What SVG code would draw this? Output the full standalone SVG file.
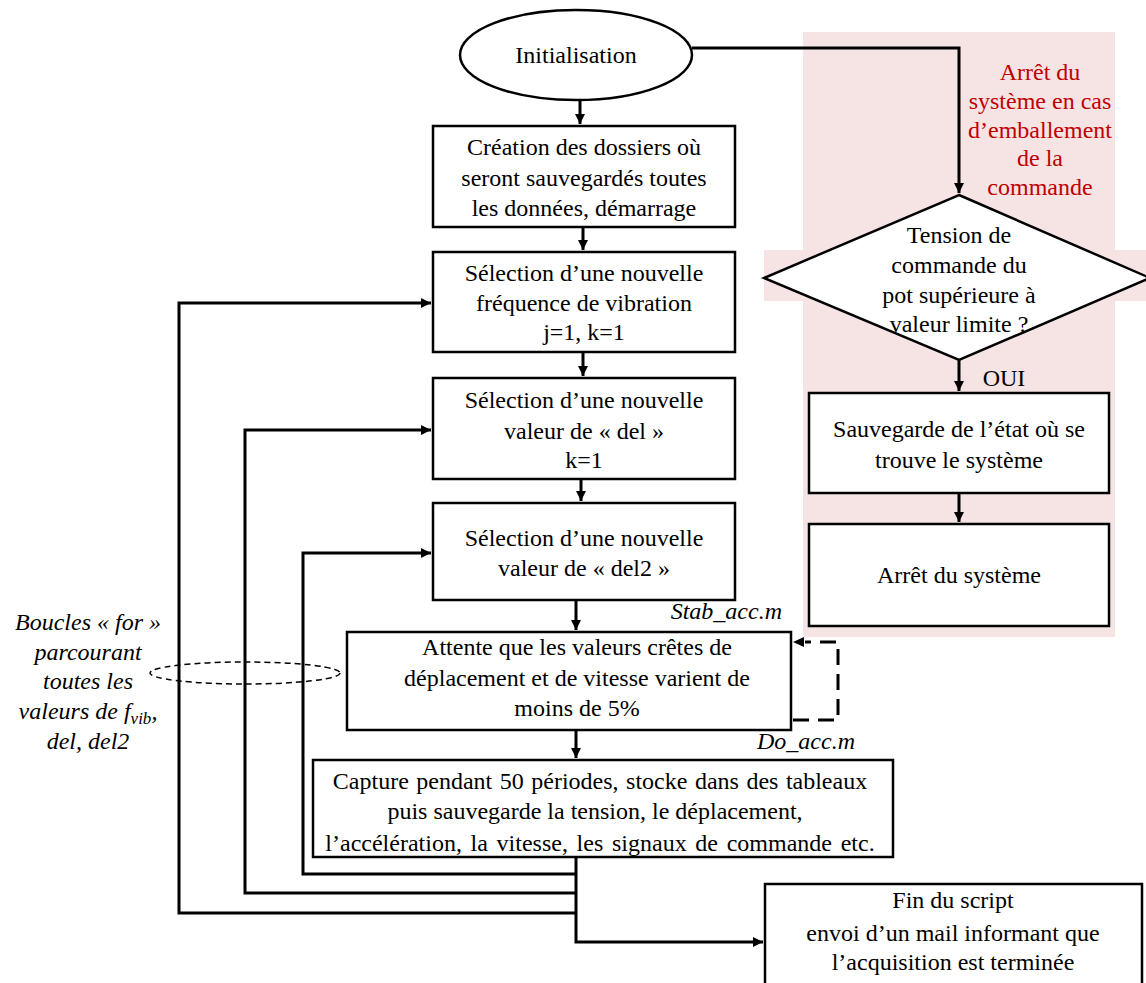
<svg xmlns="http://www.w3.org/2000/svg" width="1146" height="983" viewBox="0 0 1146 983">
<style>
.box{fill:#fff;stroke:#000;stroke-width:2.5}
.t{font-family:'Liberation Serif','Times New Roman',serif;font-size:24px;fill:#000;text-anchor:middle}
.red{fill:#c00000}
.it{font-style:italic}
.end{text-anchor:end}
.ln{fill:none;stroke:#000;stroke-width:3}
.dash{fill:none;stroke:#000;stroke-width:3;stroke-dasharray:16,9}
</style>
<defs>
<marker id="ah" viewBox="0 0 10 10" refX="10" refY="5" markerWidth="10" markerHeight="10" markerUnits="userSpaceOnUse" orient="auto">
<path d="M0,0 L10,5 L0,10 z" fill="#000"/>
</marker>
</defs>
<g id="bg">
<rect x="803" y="32" width="312" height="605" fill="#f6e3e4"/>
<rect x="764" y="250" width="382" height="51" fill="#f6e3e4"/>
</g>
<g id="connectors">
<path class="ln" d="M692,48 H959 V193" marker-end="url(#ah)"/>
<path class="ln" d="M580,100 V124" marker-end="url(#ah)"/>
<path class="ln" d="M583,227 V250" marker-end="url(#ah)"/>
<path class="ln" d="M583,352 V376" marker-end="url(#ah)"/>
<path class="ln" d="M581,479 V501" marker-end="url(#ah)"/>
<path class="ln" d="M576,600 V630" marker-end="url(#ah)"/>
<path class="ln" d="M576,730 V758" marker-end="url(#ah)"/>
<path class="ln" d="M959,360 V391" marker-end="url(#ah)"/>
<path class="ln" d="M959,493 V522" marker-end="url(#ah)"/>
<path class="ln" d="M576,857 V942 H763" marker-end="url(#ah)"/>
<path class="ln" d="M576,874 H303 V553 H431" marker-end="url(#ah)"/>
<path class="ln" d="M576,893 H245 V430 H431" marker-end="url(#ah)"/>
<path class="ln" d="M576,913 H179 V303 H431" marker-end="url(#ah)"/>
<path class="dash" d="M793,720 H838 V642 H805"/>
<path d="M793,642 L804,637 L804,647 z" fill="#000"/>
<ellipse cx="245" cy="673" rx="95" ry="11" fill="none" stroke="#000" stroke-width="1.5" stroke-dasharray="6,4"/>
</g>
<g id="init">
<ellipse cx="576" cy="55" rx="116" ry="45" class="box"/>
<text class="t" x="576" y="63" font-size="23">Initialisation</text>
</g>
<g id="creation">
<rect class="box" x="433" y="126" width="302" height="101"/>
<text class="t" x="584" y="155">Création des dossiers où</text>
<text class="t" x="584" y="186">seront sauvegardés toutes</text>
<text class="t" x="584" y="216">les données, démarrage</text>
</g>
<g id="freq">
<rect class="box" x="433" y="252" width="302" height="100"/>
<text class="t" x="584" y="281">Sélection d’une nouvelle</text>
<text class="t" x="584" y="311">fréquence de vibration</text>
<text class="t" x="584" y="340">j=1, k=1</text>
</g>
<g id="del">
<rect class="box" x="433" y="378" width="302" height="101"/>
<text class="t" x="584" y="408">Sélection d’une nouvelle</text>
<text class="t" x="584" y="439">valeur de « del »</text>
<text class="t" x="584" y="468">k=1</text>
</g>
<g id="del2">
<rect class="box" x="433" y="503" width="302" height="97"/>
<text class="t" x="584" y="546">Sélection d’une nouvelle</text>
<text class="t" x="584" y="576">valeur de « del2 »</text>
</g>
<g id="attente">
<rect class="box" x="347" y="632" width="444" height="98"/>
<text class="t" x="577" y="655">Attente que les valeurs crêtes de</text>
<text class="t" x="577" y="686">déplacement et de vitesse varient de</text>
<text class="t" x="577" y="716">moins de 5%</text>
</g>
<text class="t it end" x="782" y="619">Stab_acc.m</text>
<text class="t it end" x="855" y="749">Do_acc.m</text>
<g id="capture">
<rect class="box" x="313" y="760" width="580" height="97"/>
<text class="t" x="600" y="789" word-spacing="1.5">Capture pendant 50 périodes, stocke dans des tableaux</text>
<text class="t" x="595" y="819">puis sauvegarde la tension, le déplacement,</text>
<text class="t" x="600" y="851" word-spacing="2.7">l’accélération, la vitesse, les signaux de commande etc.</text>
</g>
<g id="fin">
<rect class="box" x="765" y="884" width="377" height="110"/>
<text class="t" x="953" y="908">Fin du script</text>
<text class="t" x="953" y="941">envoi d’un mail informant que</text>
<text class="t" x="953" y="970">l’acquisition est terminée</text>
</g>
<g id="loops-label">
<text class="t it" x="88" y="630">Boucles « for »</text>
<text class="t it" x="88" y="660">parcourant</text>
<text class="t it" x="88" y="689">toutes les</text>
<text class="t it" x="88" y="719">valeurs de <tspan>f</tspan><tspan font-size="17" dy="5">vib</tspan><tspan dy="-5">,</tspan></text>
<text class="t it" x="88" y="749">del, del2</text>
</g>
<g id="red-note">
<text class="t red" x="1040" y="80">Arrêt du</text>
<text class="t red" x="1040" y="109">système en cas</text>
<text class="t red" x="1040" y="138">d’emballement</text>
<text class="t red" x="1040" y="166">de la</text>
<text class="t red" x="1040" y="195">commande</text>
</g>
<g id="decision">
<polygon class="box" points="959,195 1150,278 959,360 764,278"/>
<text class="t" x="959" y="243">Tension de</text>
<text class="t" x="959" y="273">commande du</text>
<text class="t" x="959" y="303">pot supérieure à</text>
<text class="t" x="959" y="332">valeur limite ?</text>
</g>
<text class="t" x="1004" y="386" font-size="26">OUI</text>
<g id="sauvegarde">
<rect class="box" x="809" y="393" width="300" height="100"/>
<text class="t" x="959" y="437">Sauvegarde de l’état où se</text>
<text class="t" x="959" y="468">trouve le système</text>
</g>
<g id="arret">
<rect class="box" x="809" y="524" width="300" height="102"/>
<text class="t" x="959" y="583">Arrêt du système</text>
</g>
</svg>
